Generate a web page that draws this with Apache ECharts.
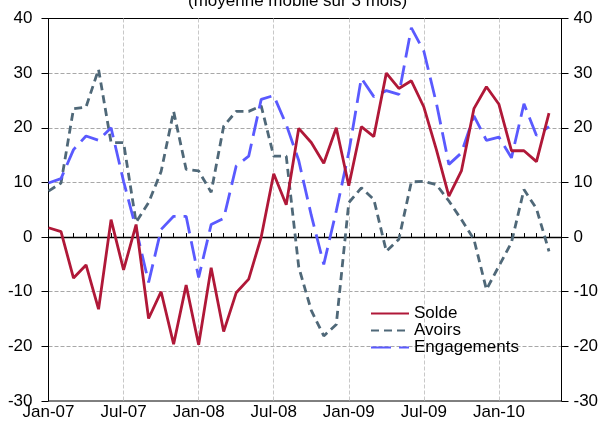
<!DOCTYPE html>
<html>
<head>
<meta charset="utf-8">
<title>Solde, avoirs et engagements</title>
<script src="https://cdn.jsdelivr.net/npm/echarts@6/dist/echarts.min.js"></script>
<style>
  html, body { margin: 0; padding: 0; background: #fff; }
  #chart { width: 602px; height: 421px; }
</style>
</head>
<body>
<div id="chart"></div>
<script>
// mois, de Jan-07 a Jun-10 (le dernier point n'a pas de valeur)
var months = [
  'Jan-07', 'Feb-07', 'Mar-07', 'Apr-07', 'May-07', 'Jun-07',
  'Jul-07', 'Aug-07', 'Sep-07', 'Oct-07', 'Nov-07', 'Dec-07',
  'Jan-08', 'Feb-08', 'Mar-08', 'Apr-08', 'May-08', 'Jun-08',
  'Jul-08', 'Aug-08', 'Sep-08', 'Oct-08', 'Nov-08', 'Dec-08',
  'Jan-09', 'Feb-09', 'Mar-09', 'Apr-09', 'May-09', 'Jun-09',
  'Jul-09', 'Aug-09', 'Sep-09', 'Oct-09', 'Nov-09', 'Dec-09',
  'Jan-10', 'Feb-10', 'Mar-10', 'Apr-10', 'May-10', 'Jun-10'
]

var solde = [
  1.7, 1.0, -7.5, -5.1, -13.2, 3.2, -6.0, 2.3, -14.9, -10.0, -19.6, -8.8,
  -19.7, -5.6, -17.3, -10.2, -7.7, 0.0, 11.6, 5.9, 19.9, 17.3, 13.5, 20.0,
  9.4, 20.2, 18.4, 30.0, 27.2, 28.6, 23.8, 16.0, 7.5, 12.1, 23.5, 27.5,
  24.3, 15.8, 15.8, 13.8, 22.7
]
var avoirs = [
  8.4, 9.9, 23.5, 23.8, 30.7, 17.3, 17.3, 2.7, 6.3, 12.0, 23.0, 12.4,
  12.1, 8.2, 20.3, 23.0, 23.0, 24.0, 14.8, 14.8, -5.5, -13.4, -18.1, -16.0,
  6.3, 9.0, 6.9, -2.6, -0.4, 10.1, 10.2, 9.6, 6.6, 3.2, -0.4, -9.6,
  -5.3, -1.0, 8.7, 5.2, -2.6
]
var engagements = [
  9.9, 10.7, 16.0, 18.5, 17.7, 20.0, 10.2, 1.5, -8.3, 1.4, 3.8, 3.8,
  -7.4, 2.3, 3.4, 13.0, 14.8, 25.2, 25.9, 20.6, 14.0, 4.0, -5.0, 4.8,
  15.5, 29.1, 25.7, 26.8, 26.1, 38.3, 34.0, 24.5, 13.3, 15.4, 22.2, 17.7,
  18.3, 14.5, 24.4, 18.6, 20.2
]

var font = '"Liberation Sans", Arial, sans-serif'

var chart = echarts.init(document.getElementById('chart'), null, { renderer: 'canvas' })

chart.setOption({
  animation: false,
  backgroundColor: '#fff',
  textStyle: { fontFamily: font },
  graphic: [{
    type: 'text',
    left: 188,
    top: -7,
    style: {
      text: '(moyenne mobile sur 3 mois)',
      font: '17px ' + font,
      fill: '#000'
    }
  }],
  grid: {
    left: 48.5,
    right: 40.5,
    top: 18.5,
    bottom: 18.7,
    show: true,
    borderColor: '#000',
    borderWidth: 1
  },
  legend: {
    orient: 'vertical',
    left: 370,
    top: 305,
    padding: 0,
    itemGap: 0,
    itemWidth: 38,
    itemHeight: 10,
    itemStyle: { opacity: 0 },
    textStyle: { fontSize: 17, lineHeight: 17, color: '#000', fontFamily: font },
    data: ['Solde', 'Avoirs', 'Engagements']
  },
  xAxis: {
    type: 'category',
    data: months,
    boundaryGap: false,
    axisLine: { lineStyle: { color: '#000', width: 1 } },
    axisTick: { inside: true, length: 4, interval: 0, lineStyle: { color: '#000' } },
    axisLabel: {
      interval: function (i) { return i % 6 === 0 },
      margin: 3,
      fontSize: 17,
      color: '#000',
      fontFamily: font
    },
    splitLine: {
      show: true,
      interval: function (i) { return i % 6 === 0 && i > 0 },
      lineStyle: { color: '#c8c8c8', type: [4, 2], width: 1 }
    }
  },
  yAxis: [{
    type: 'value',
    min: -30,
    max: 40,
    interval: 10,
    position: 'left',
    axisLine: { show: true, lineStyle: { color: '#000', width: 1 } },
    axisTick: { show: true, length: 7, lineStyle: { color: '#000' } },
    axisLabel: { margin: 16, fontSize: 17, color: '#000', fontFamily: font },
    splitLine: {
      show: true,
      lineStyle: {
        color: ['transparent', '#a8a8a8', '#a8a8a8', 'transparent', '#a8a8a8', '#a8a8a8', '#a8a8a8', 'transparent'],
        type: [4, 2],
        width: 1
      }
    }
  }, {
    type: 'value',
    min: -30,
    max: 40,
    interval: 10,
    position: 'right',
    axisLine: { show: true, lineStyle: { color: '#000', width: 1 } },
    axisTick: { show: true, length: 7, lineStyle: { color: '#000' } },
    axisLabel: { margin: 12, fontSize: 17, color: '#000', fontFamily: font },
    splitLine: { show: false }
  }],
  series: [{
    name: 'Solde',
    type: 'line',
    data: solde,
    symbol: 'none',
    z: 4,
    lineStyle: { color: '#b01838', width: 2.8 },
    itemStyle: { color: '#b01838' },
    markLine: {
      silent: true,
      symbol: 'none',
      label: { show: false },
      z: 1,
      lineStyle: { color: '#000', width: 1.3, type: 'solid' },
      data: [{ yAxis: 0 }]
    }
  }, {
    name: 'Avoirs',
    type: 'line',
    data: avoirs,
    symbol: 'none',
    z: 3,
    lineStyle: { color: '#4f6878', width: 2.8, type: [8, 5] },
    itemStyle: { color: '#4f6878' }
  }, {
    name: 'Engagements',
    type: 'line',
    data: engagements,
    symbol: 'none',
    z: 3,
    lineStyle: { color: '#5a5aff', width: 2.8, type: [20, 8] },
    itemStyle: { color: '#5a5aff' }
  }]
})
</script>
</body>
</html>
